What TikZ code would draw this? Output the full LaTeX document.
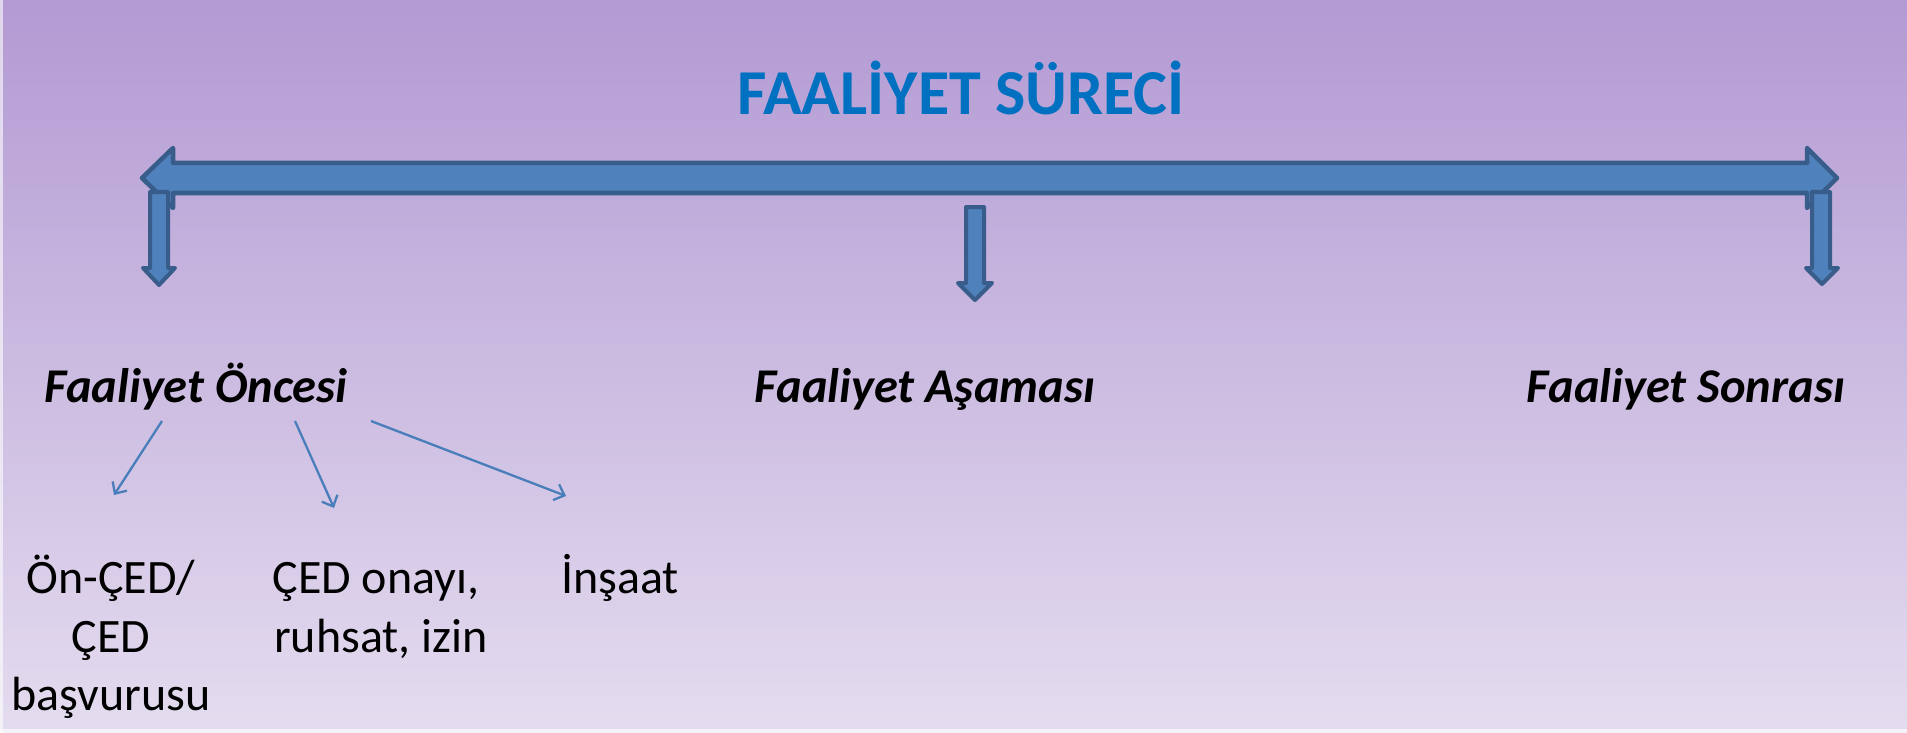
\documentclass[tikz,border=0pt]{standalone}
\usepackage{fontspec}
\setmainfont{Carlito}
\usetikzlibrary{arrows.meta}
\definecolor{bgtop}{HTML}{B39AD3}
\definecolor{bgbot}{HTML}{E4DCEF}
\definecolor{arrowfill}{HTML}{4F81BD}
\definecolor{arrowline}{HTML}{385D8A}
\definecolor{thinblue}{HTML}{4A7EBB}
\definecolor{titleblue}{HTML}{0070C0}
\tikzset{
  blockarrow/.style={fill=arrowfill, draw=arrowline, line width=4.5pt, line join=round},
  titletext/.style={font=\fontsize{64}{77}\selectfont\bfseries, text=titleblue, anchor=base, inner sep=0pt},
  headtext/.style={font=\fontsize{48.5}{58}\selectfont\bfseries\itshape, anchor=base, inner sep=0pt},
  bodytext/.style={font=\fontsize{48}{58}\selectfont, anchor=base, inner sep=0pt},
  thinarrow/.style={draw=thinblue, line width=2.3pt, -{Straight Barb[length=9pt,width=17pt,line width=2.3pt]}}
}
\begin{document}
\begin{tikzpicture}[x=1pt, y=-1pt]
\useasboundingbox (0,0) rectangle (1907,733);
\shade[top color=bgtop, bottom color=bgbot] (0,0) rectangle (1907,733);
\fill[white, opacity=0.6] (0,0) rectangle (2.5,733);
\fill[white, opacity=0.6] (0,729) rectangle (1907,733);

% big double arrow
\draw[blockarrow] (142,178) -- (173,148) -- (173,163) -- (1807,163) -- (1807,148)
  -- (1837,178) -- (1807,208) -- (1807,193) -- (173,193) -- (173,208) -- cycle;
% down arrows
\draw[blockarrow, line width=4pt] (150,192) -- (168,192) -- (168,268) -- (175,268) -- (159,285)
  -- (143,268) -- (150,268) -- cycle;
\draw[blockarrow, line width=4pt] (1812,192) -- (1830,192) -- (1830,268) -- (1838,268) -- (1822,284)
  -- (1806,268) -- (1812,268) -- cycle;
\draw[blockarrow, line width=4pt] (966,207) -- (984,207) -- (984,283) -- (992,283) -- (975,300)
  -- (958,283) -- (966,283) -- cycle;

\node[titletext] (title) at (961,115) {FAALİYET SÜRECİ};

\node[headtext] (once) at (196,402) {Faaliyet Öncesi};
\node[headtext] (asama) at (925,402) {Faaliyet Aşaması};
\node[headtext] (sonra) at (1686,402) {Faaliyet Sonrası};

\node[bodytext] (c1a) at (111,593) {Ön-ÇED/};
\node[bodytext] (c1b) at (111,652) {ÇED};
\node[bodytext] (c1c) at (111,710) {başvurusu};
\node[bodytext] (c2a) at (376,593) {ÇED onayı,};
\node[bodytext] (c2b) at (381,652) {ruhsat, izin};
\node[bodytext] (c3a) at (620,593) {İnşaat};

\coordinate (s1) at (162,421);
\coordinate (e1) at (114,495);
\coordinate (s2) at (295,421);
\coordinate (e2) at (334,508);
\coordinate (s3) at (371,421);
\coordinate (e3) at (566,496);
\draw[thinarrow] (s1) -- (e1);
\draw[thinarrow] (s2) -- (e2);
\draw[thinarrow] (s3) -- (e3);
\end{tikzpicture}
\end{document}
